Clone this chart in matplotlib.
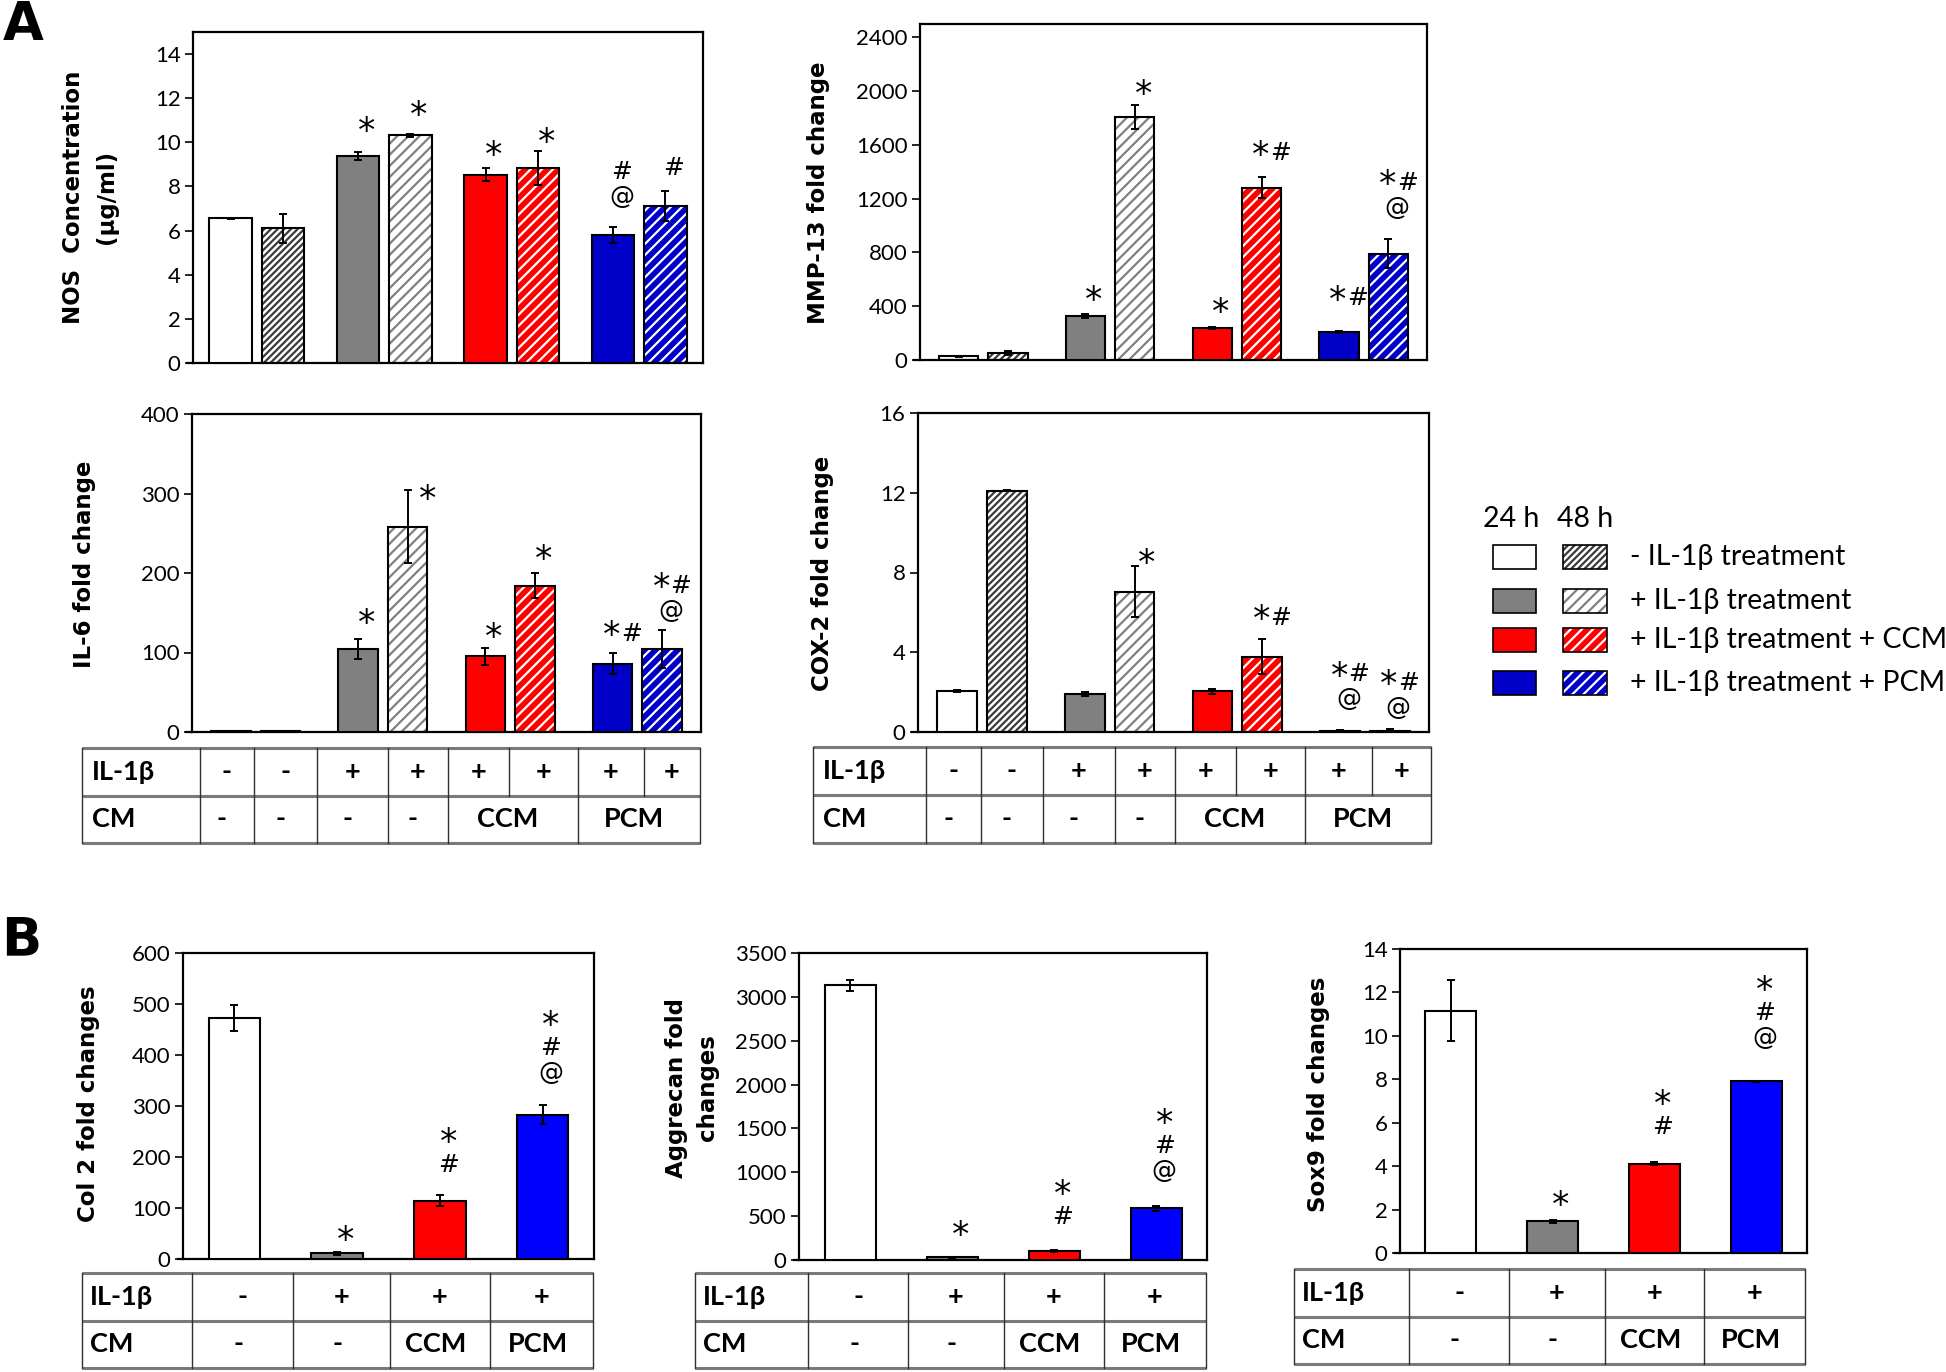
import matplotlib
matplotlib.use("Agg")
import matplotlib.pyplot as plt
from matplotlib.patches import Rectangle


W, H = 1946, 1372

# ---- data ----
# panel A: 24 h / 48 h pairs for (- IL-1b, + IL-1b, + IL-1b + CCM, + IL-1b + PCM)
nos_mean = [6.55, 6.10, 9.38, 10.31, 8.54, 8.84, 5.80, 7.12]
nos_err = [0.03, 0.64, 0.19, 0.05, 0.30, 0.77, 0.35, 0.68]
nos_marks = ["", "", "*", "*", "*", "*", "#\n@", "#"]

mmp13_mean = [27, 52, 326, 1807, 237, 1283, 207, 792]
mmp13_err = [5, 12, 15, 87, 8, 76, 8, 107]
mmp13_marks = ["", "", "*", "*", "*", "*#", "*#", "*#\n@"]

il6_mean = [1.0, 1.0, 105, 258, 95, 184, 86, 104]
il6_err = [0, 0, 12.6, 46, 11, 16, 13, 24]
il6_marks = ["", "", "*", "*", "*", "*", "*#", "*#\n@"]

cox2_mean = [2.06, 12.1, 1.93, 7.04, 2.04, 3.77, 0.05, 0.05]
cox2_err = [0.03, 0.02, 0.10, 1.28, 0.13, 0.88, 0.03, 0.10]
cox2_marks = ["", "", "", "*", "", "*#", "*#\n@", "*#\n@"]

# panel B: (- IL-1b, + IL-1b, + IL-1b + CCM, + IL-1b + PCM)
col2_mean = [473, 11, 114, 283]
col2_err = [25, 3, 11, 18]
agg_mean = [3131, 30, 103, 590]
agg_err = [60, 8, 10, 30]
sox9_mean = [11.16, 1.46, 4.12, 7.91]
sox9_err = [1.40, 0.07, 0.08, 0.03]
b_marks = ["", "*", "*\n#", "*\n#\n@"]

il1b_a = ["-", "-", "+", "+", "+", "+", "+", "+"]
cm_a = ["-", "-", "-", "-", "CCM", "PCM"]
il1b_b = ["-", "+", "+", "+"]
cm_b = ["-", "-", "CCM", "PCM"]

legend_labels = ["- IL-1β treatment", "+ IL-1β treatment",
                 "+ IL-1β treatment + CCM", "+ IL-1β treatment + PCM"]

# ---- styles ----
GRAY = "#808080"
RED = "#ff0000"
BLUE_A = "#0000c8"
BLUE_B = "#0000ff"
# (face, hatch, hatch colour) per pair member
STYLE_24 = [("white", None, None), (GRAY, None, None), (RED, None, None), (BLUE_A, None, None)]
STYLE_48 = [("white", "/////", "#3a3a3a"), ("white", "///", GRAY),
            (RED, "///", "white"), (BLUE_A, "///", "white")]

# vertical nudges of the significance marks, in points
NOS_DY = [0, 0, 3.6, 2.4, -2, -4.8, 9, 4]
MMP_DY = [0, 0, -1.3, -3.2, -0.4, 4.7, 10.8, 10]
IL6_DY = [0, 0, -0.4, -18, -4, -1.4, 1.4, 1.4]
COX_DY = [0, 0, 0, -9, 0, 2.9, 10, 2.7]
COL2_DY = [0, -2.7, 9, 10.5]
AGG_DY = [0, 4, 11, 12]
SOX_DY = [0, -1, 12, 18]

MARK_FS = 18
STAR_FS = 25
LINE_H = 18

plt.rcParams["font.family"] = ["Lato", "DejaVu Sans"]
plt.rcParams["hatch.linewidth"] = 1.6

fig = plt.figure(figsize=(W / 100, H / 100), dpi=100)


def px_axes(l, t, r, b, **kw):
    return fig.add_axes([l / W, 1 - b / H, (r - l) / W, (b - t) / H], **kw)


def style_axes(ax, ylim, step, n_groups):
    ax.set_xlim(-0.5, n_groups - 0.5)
    ax.set_ylim(*ylim)
    top = ylim[1] - ylim[1] % step
    ax.set_yticks([step * i for i in range(int(round(top / step)) + 1)])
    ax.set_xticks([])
    for sp in ax.spines.values():
        sp.set_linewidth(1.6)
    ax.tick_params(axis="y", direction="out", length=6, width=1.2, labelsize=16, pad=3)
    # excel lets the category axis run out to the tick ends
    ax.plot([-0.014, 0], [0, 0], transform=ax.transAxes, color="black", lw=1.6,
            clip_on=False, solid_capstyle="butt")


def draw_bar(ax, x, v, width, face, hatch, hcolor):
    if hatch:
        ax.bar(x, v, width, color=face, edgecolor=hcolor, hatch=hatch, linewidth=0, zorder=2)
        ax.bar(x, v, width, fill=False, edgecolor="black", linewidth=1.5, zorder=3)
    else:
        ax.bar(x, v, width, color=face, edgecolor="black", linewidth=1.5, zorder=3)


def put(ax, s, x, t, dx, dy, ha, fs):
    ax.annotate(s, (x, t), xytext=(dx, dy), textcoords="offset points", ha=ha,
                va="baseline", fontsize=fs, family="DejaVu Sans", zorder=5)


def add_marks(ax, xs, tops, marks, dys, dx_over):
    # lines are stacked bottom-up; a leading "*" is drawn larger, like the original
    for i, (x, t, m) in enumerate(zip(xs, tops, marks)):
        if not m:
            continue
        dx = dx_over.get(i, 6)
        for j, line in enumerate(reversed(m.split("\n"))):
            base = 7.7 + dys[i] + j * LINE_H
            star = line.startswith("*")
            rest = line[1:] if star else line
            if star:
                sb = base - 0.59 * (STAR_FS - MARK_FS)
                if rest:
                    put(ax, "*", x, t, dx - 0.5, sb, "right", STAR_FS)
                else:
                    put(ax, "*", x, t, dx, sb, "center", STAR_FS)
            if rest:
                if star:
                    put(ax, rest, x, t, dx, base, "left", MARK_FS)
                else:
                    put(ax, rest, x, t, dx, base, "center", MARK_FS)


def panel_a(rect, mean, err, marks, ylim, step, dys, dx_over=None,
            half_gap=0.195, width=0.31, first_green=False):
    ax = px_axes(*rect)
    xs, tops = [], []
    for g in range(4):
        for k, st in enumerate((STYLE_24[g], STYLE_48[g])):
            i = 2 * g + k
            x = g + (-half_gap if k == 0 else half_gap)
            face, hatch, hc = st
            if first_green and i == 0:
                face, hatch, hc = "white", "--", "#49a649"
            draw_bar(ax, x, mean[i], width, face, hatch, hc)
            xs.append(x)
            tops.append(mean[i] + err[i])
    ax.errorbar(xs, mean, yerr=err, fmt="none", ecolor="black", elinewidth=1.4,
                capsize=3, capthick=1.4, zorder=4)
    add_marks(ax, xs, tops, marks, dys, dx_over or {})
    style_axes(ax, ylim, step, 4)
    return ax


def panel_b(rect, mean, err, ylim, step, dys):
    ax = px_axes(*rect)
    faces = ["white", GRAY, RED, BLUE_B]
    xs = list(range(4))
    for x, v, fc in zip(xs, mean, faces):
        draw_bar(ax, x, v, 0.5, fc, None, None)
    ax.errorbar(xs, mean, yerr=err, fmt="none", ecolor="black", elinewidth=1.4,
                capsize=3, capthick=1.4, zorder=4)
    tops = [m + e for m, e in zip(mean, err)]
    add_marks(ax, xs, tops, b_marks, dys, {})
    style_axes(ax, ylim, step, 4)
    return ax


def draw_table(ax_rect, tab_rect, bounds, row1, row2, row2_cells, split_only_top):
    axl, _, axr, _ = ax_rect
    tl, tt, tr, tb = tab_rect
    ppu = (axr - axl) / 4.0
    x0 = -0.5 - (axl - tl) / ppu
    x1 = -0.5 + (tr - axl) / ppu
    bounds = list(bounds[:-1]) + [x1]
    row2_cells = [(a, x1 if b == row2_cells[-1][1] else b) for a, b in row2_cells]
    tax = px_axes(tl, tt, tr, tb)
    tax.set_xlim(x0, x1)
    tax.set_ylim(0, 2)
    tax.axis("off")
    for y in (0, 1, 2):
        tax.plot([x0, x1], [y, y], color="#7a7a7a", lw=2.2, clip_on=False,
                 solid_capstyle="butt")
    for x in [x0] + bounds:
        y_lo = 1 if x in split_only_top else 0
        tax.plot([x, x], [y_lo, 2], color="#303030", lw=1.0, clip_on=False)
    fs = 19.5
    tax.text(x0 + 0.08, 1.5, "IL-1β", ha="left", va="center", fontsize=fs, fontweight="bold")
    tax.text(x0 + 0.08, 0.5, "CM", ha="left", va="center", fontsize=fs, fontweight="bold")
    for (a, b), s in zip(zip(bounds[:-1], bounds[1:]), row1):
        tax.text((a + b) / 2, 1.5, s, ha="center", va="center", fontsize=fs, fontweight="bold")
    for (a, b), s in zip(row2_cells, row2):
        tax.text((a + b) / 2 - 0.04, 0.5, s, ha="center", va="center", fontsize=fs, fontweight="bold")


def ylabel(x, y, text, ls=1.6):
    fig.text(x / W, 1 - y / H, text, rotation=90, ha="center", va="center",
             fontsize=16.5, fontweight="bold", family="DejaVu Sans",
             multialignment="center", linespacing=ls)


# ---- panel A ----
R_NOS = (193, 32, 703, 363)
R_MMP = (920, 24, 1427, 360)
R_IL6 = (192, 414, 701, 732)
R_COX = (918, 413, 1429, 732)

panel_a(R_NOS, nos_mean, nos_err, nos_marks, (0, 15), 2, NOS_DY, half_gap=0.205, width=0.335)
panel_a(R_MMP, mmp13_mean, mmp13_err, mmp13_marks, (0, 2500), 400, MMP_DY, first_green=True)
panel_a(R_IL6, il6_mean, il6_err, il6_marks, (0, 400), 100, IL6_DY, dx_over={3: 14})
panel_a(R_COX, cox2_mean, cox2_err, cox2_marks, (0, 16), 4, COX_DY, dx_over={3: 9})

ylabel(90, 197, "NOS  Concentration\n(µg/ml)")
ylabel(818, 193, "MMP-13 fold change")
ylabel(84, 564, "IL-6 fold change")
ylabel(822, 573, "COX-2 fold change")

A_BOUNDS = [-0.44, -0.01, 0.48, 1.04, 1.51, 1.99, 2.53, 3.05, 3.5]
A_ROW2 = [(-0.44, -0.01), (-0.01, 0.48), (0.48, 1.04), (1.04, 1.51), (1.51, 2.53), (2.53, 3.5)]
draw_table(R_IL6, (82, 748, 700, 843), A_BOUNDS, il1b_a, cm_a, A_ROW2, (1.99, 3.05))
draw_table(R_COX, (813, 747, 1431, 843), A_BOUNDS, il1b_a, cm_a, A_ROW2, (1.99, 3.05))

# ---- panel B ----
R_COL2 = (183, 953, 594, 1259)
R_AGG = (799, 953, 1207, 1260)
R_SOX = (1400, 949, 1807, 1253)
panel_b(R_COL2, col2_mean, col2_err, (0, 600), 100, COL2_DY)
panel_b(R_AGG, agg_mean, agg_err, (0, 3500), 500, AGG_DY)
panel_b(R_SOX, sox9_mean, sox9_err, (0, 14), 2, SOX_DY)

ylabel(88, 1104, "Col 2 fold changes")
ylabel(692, 1088, "Aggrecan fold\nchanges", ls=1.5)
ylabel(1318, 1094, "Sox9 fold changes")

B_BOUNDS = [-0.41, 0.57, 1.51, 2.49, 3.49]
B_ROW2 = list(zip(B_BOUNDS[:-1], B_BOUNDS[1:]))
draw_table(R_COL2, (82, 1273, 593, 1368), B_BOUNDS, il1b_b, cm_b, B_ROW2, ())
draw_table(R_AGG, (695, 1273, 1206, 1368), B_BOUNDS, il1b_b, cm_b, B_ROW2, ())
draw_table(R_SOX, (1294, 1269, 1805, 1364), B_BOUNDS, il1b_b, cm_b, B_ROW2, ())

# ---- overlay: panel letters and legend ----
ov = fig.add_axes([0, 0, 1, 1], facecolor="none")
ov.set_xlim(0, W)
ov.set_ylim(H, 0)
ov.axis("off")
ov.text(3, 40, "A", fontsize=38, fontweight="bold", family="DejaVu Sans", va="baseline")
ov.text(1, 955, "B", fontsize=38, fontweight="bold", family="DejaVu Sans", va="baseline")

ov.text(1511, 519, "24 h", fontsize=20.5, ha="center", va="center")
ov.text(1585, 519, "48 h", fontsize=20.5, ha="center", va="center")
leg_y = [557, 601, 640, 683]
for g, (lab, y) in enumerate(zip(legend_labels, leg_y)):
    fc, _, _ = STYLE_24[g]
    ov.add_patch(Rectangle((1493, y - 12), 43, 24, facecolor=fc, edgecolor="black", lw=1.2))
    fc, hatch, hc = STYLE_48[g]
    ov.add_patch(Rectangle((1563, y - 12), 44, 24, facecolor=fc, edgecolor=hc, hatch=hatch, lw=0))
    ov.add_patch(Rectangle((1563, y - 12), 44, 24, fill=False, edgecolor="black", lw=1.2))
    ov.text(1630, y, lab, fontsize=20.5, ha="left", va="center")

fig.savefig("out.png", dpi=100)
